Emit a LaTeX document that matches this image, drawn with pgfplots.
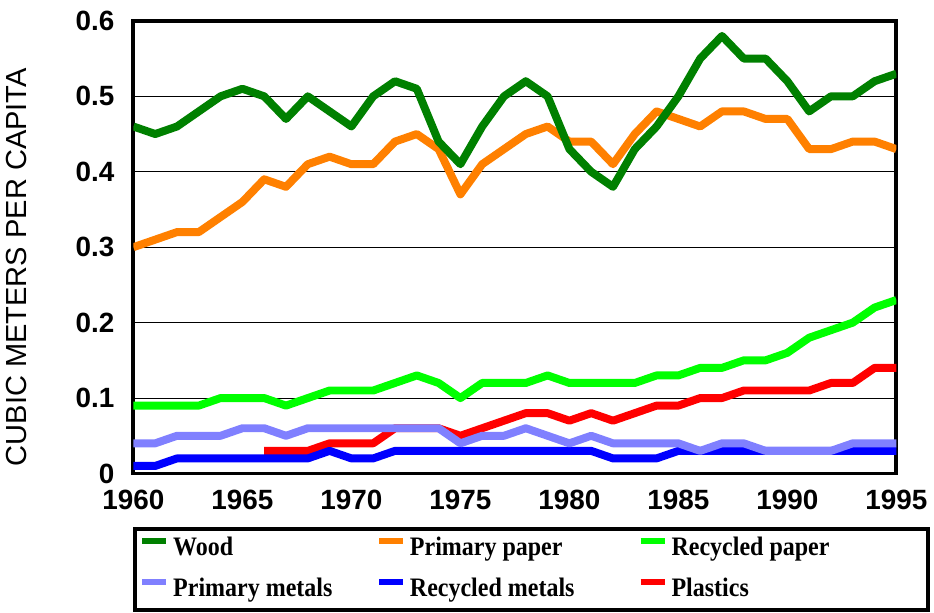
\documentclass[border=0pt]{standalone}
\usepackage{fontspec}
\setmainfont{Liberation Sans}
\newfontfamily\legfont[FakeStretch=0.9]{Liberation Serif}
\usepackage{pgfplots}
\pgfplotsset{compat=1.18}

\definecolor{cwood}{RGB}{0,128,0}
\definecolor{cppaper}{RGB}{255,128,0}
\definecolor{crpaper}{RGB}{0,255,0}
\definecolor{cpmet}{RGB}{128,128,255}
\definecolor{crmet}{RGB}{0,0,255}
\definecolor{cplast}{RGB}{255,0,0}

% cubic meters per capita, 1960-1995
\pgfplotstableread{
year wood ppaper rpaper pmet rmet
1960 0.46 0.30 0.09 0.04 0.01
1961 0.45 0.31 0.09 0.04 0.01
1962 0.46 0.32 0.09 0.05 0.02
1963 0.48 0.32 0.09 0.05 0.02
1964 0.50 0.34 0.10 0.05 0.02
1965 0.51 0.36 0.10 0.06 0.02
1966 0.50 0.39 0.10 0.06 0.02
1967 0.47 0.38 0.09 0.05 0.02
1968 0.50 0.41 0.10 0.06 0.02
1969 0.48 0.42 0.11 0.06 0.03
1970 0.46 0.41 0.11 0.06 0.02
1971 0.50 0.41 0.11 0.06 0.02
1972 0.52 0.44 0.12 0.06 0.03
1973 0.51 0.45 0.13 0.06 0.03
1974 0.44 0.43 0.12 0.06 0.03
1975 0.41 0.37 0.10 0.04 0.03
1976 0.46 0.41 0.12 0.05 0.03
1977 0.50 0.43 0.12 0.05 0.03
1978 0.52 0.45 0.12 0.06 0.03
1979 0.50 0.46 0.13 0.05 0.03
1980 0.43 0.44 0.12 0.04 0.03
1981 0.40 0.44 0.12 0.05 0.03
1982 0.38 0.41 0.12 0.04 0.02
1983 0.43 0.45 0.12 0.04 0.02
1984 0.46 0.48 0.13 0.04 0.02
1985 0.50 0.47 0.13 0.04 0.03
1986 0.55 0.46 0.14 0.03 0.03
1987 0.58 0.48 0.14 0.04 0.03
1988 0.55 0.48 0.15 0.04 0.03
1989 0.55 0.47 0.15 0.03 0.03
1990 0.52 0.47 0.16 0.03 0.03
1991 0.48 0.43 0.18 0.03 0.03
1992 0.50 0.43 0.19 0.03 0.03
1993 0.50 0.44 0.20 0.04 0.03
1994 0.52 0.44 0.22 0.04 0.03
1995 0.53 0.43 0.23 0.04 0.03
}\datatable

\pgfplotstableread{
year plast
1966 0.03
1967 0.03
1968 0.03
1969 0.04
1970 0.04
1971 0.04
1972 0.06
1973 0.06
1974 0.06
1975 0.05
1976 0.06
1977 0.07
1978 0.08
1979 0.08
1980 0.07
1981 0.08
1982 0.07
1983 0.08
1984 0.09
1985 0.09
1986 0.10
1987 0.10
1988 0.11
1989 0.11
1990 0.11
1991 0.11
1992 0.12
1993 0.12
1994 0.14
1995 0.14
}\plasttable

\begin{document}
\begin{tikzpicture}
\begin{axis}[
    name=ax,
    scale only axis,
    width=383.5pt, height=227.5pt,
    xmin=1960, xmax=1995,
    ymin=0, ymax=0.6,
    xtick={1960,1965,...,1995},
    ytick={0,0.1,0.2,0.3,0.4,0.5,0.6},
    major tick length=0pt,
    ymajorgrids,
    major grid style={black, line width=0.5pt},
    axis line style={line width=2pt},
    /pgf/number format/assume math mode=true,
    tick label style={font=\fontsize{14}{16}\selectfont\bfseries},
    xticklabel style={/pgf/number format/1000 sep={}, yshift=-5pt},
    yticklabel style={/pgf/number format/fixed, xshift=-6pt},
    ylabel={CUBIC METERS PER CAPITA},
    every axis y label/.style={at={(axis description cs:-0.13,0.456)},
        anchor=south, rotate=90, font=\fontsize{14.6}{16}\selectfont},
    every axis plot/.append style={line width=4pt, line join=round},
    reverse legend,
    legend columns=3,
    legend cell align=left,
    legend image code/.code={\draw[#1, line width=3pt] (0pt,4pt) -- (12pt,4pt);},
    legend style={at={(0,-0.118)}, anchor=north west,
        draw=black, line width=2pt, inner xsep=2pt, inner ysep=0pt,
        font=\legfont\bfseries\fontsize{13.4}{15}\selectfont,
        nodes={inner ysep=4.25pt, text height=9pt, text depth=3pt},
        /tikz/every even column/.append style={column sep=0pt}},
]
\addplot[cplast] table[x=year, y=plast] {\plasttable};
\addlegendentry{\makebox[125pt][l]{Plastics}}
\addplot[crmet] table[x=year, y=rmet] {\datatable};
\addlegendentry{\makebox[112.5pt][l]{Recycled metals}}
\addplot[cpmet] table[x=year, y=pmet] {\datatable};
\addlegendentry{\makebox[100pt][l]{Primary metals}}
\addplot[crpaper] table[x=year, y=rpaper] {\datatable};
\addlegendentry{\makebox[125pt][l]{Recycled paper}}
\addplot[cppaper] table[x=year, y=ppaper] {\datatable};
\addlegendentry{\makebox[112.5pt][l]{Primary paper}}
\addplot[cwood] table[x=year, y=wood] {\datatable};
\addlegendentry{\makebox[100pt][l]{Wood}}
\end{axis}
\path ([xshift=-66.5pt,yshift=10.5pt]ax.north west) rectangle ([xshift=17pt,yshift=-68pt]ax.south east);
\end{tikzpicture}
\end{document}
